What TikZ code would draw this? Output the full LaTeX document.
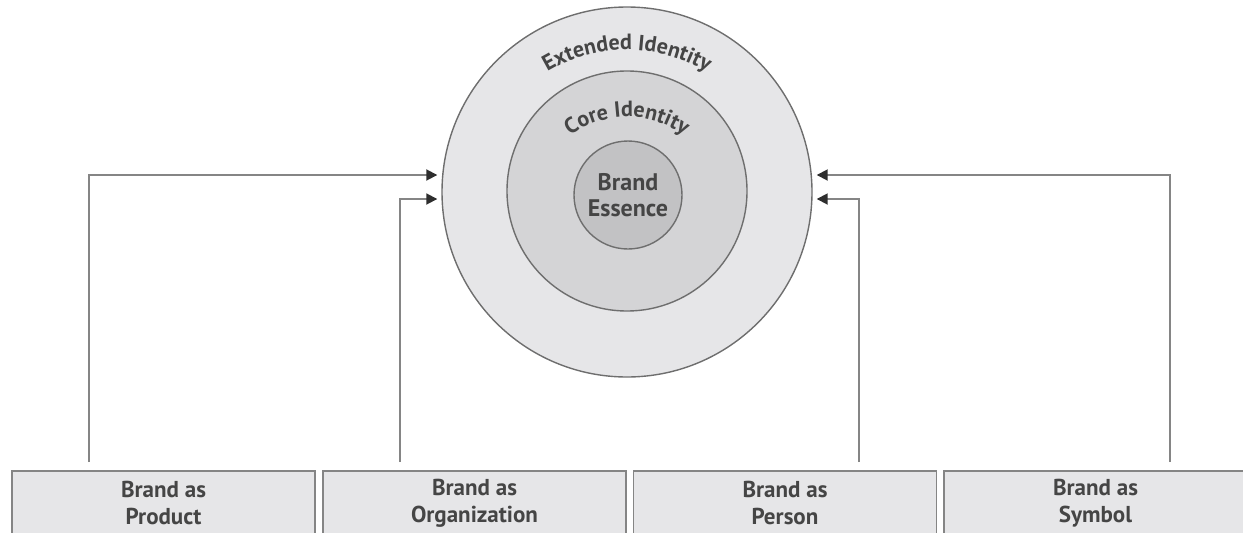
\documentclass[tikz,border=0pt]{standalone}
\usepackage{fontspec}
\setmainfont{PT Sans}
\setsansfont{PT Sans}
\usetikzlibrary{arrows.meta,decorations.text}
\definecolor{textgray}{HTML}{454545}
\definecolor{linegray}{HTML}{858585}
\definecolor{ringline}{HTML}{6E6E6E}
\definecolor{arrowdark}{HTML}{2E2E2E}
\definecolor{outerfill}{HTML}{E6E6E8}
\definecolor{middlefill}{HTML}{D4D4D6}
\definecolor{innerfill}{HTML}{C2C2C4}
\definecolor{boxfill}{HTML}{E6E6E8}
\tikzset{%
  >={Triangle[length=11pt,width=11pt,color=arrowdark]},
  % Specifications for style of nodes:
            ring/.style = {circle, draw=ringline, line width=1.4pt,
                           inner sep=0pt, text=textgray,
                           font=\sffamily\bfseries},
       outerring/.style = {ring, fill=outerfill, minimum size=370pt},
      middlering/.style = {ring, fill=middlefill, minimum size=240pt},
       innerring/.style = {ring, fill=innerfill, minimum size=108pt,
                           align=center, font=\sffamily\bfseries\fontsize{24}{26}\selectfont},
        brandbox/.style = {rectangle, draw=linegray, line width=1.8pt,
                           fill=boxfill, minimum width=303pt, minimum height=64pt,
                           align=center, text=textgray,
                           font=\sffamily\bfseries\fontsize{23}{27}\selectfont},
       connector/.style = {->, draw=linegray, line width=1.8pt,
                           shorten <=8pt, shorten >=4pt},
      ringlabel/.style = {decorate, decoration={text along path, text align=center,
                           text color=textgray,
                           text={|\sffamily\bfseries\fontsize{22}{22}\selectfont|#1}}},
}

\begin{document}
\begin{tikzpicture}[x=1pt, y=1pt]
  \useasboundingbox (0,0) rectangle (1243,-533);
  % Specification of nodes (position, etc.)

  \node (extended)		[outerring] at (627,-192) {};
  \node (core)			[middlering] at (627,-191) {};
  \node (essence)		[innerring] at (628,-195) {Brand\\Essence};

  \path[ringlabel={Extended Identity}] (627,-205) ++(165:155) arc[start angle=165, end angle=15, radius=155];
  \path[ringlabel={Core Identity}] (627,-215) ++(160:98) arc[start angle=160, end angle=20, radius=98];

  \node (product)		[brandbox] at (163.5,-503) {Brand as\\Product};
  \node (organization)	[brandbox] at (474.5,-503) {Brand as\\Organization};
  \node (person)		[brandbox] at (785,-503) {Brand as\\Person};
  \node (symbol)		[brandbox] at (1095.5,-503) {Brand as\\Symbol};

  \draw[connector]		([xshift=-74.5pt]product.north) |- ([yshift=17pt]extended.west);
  \draw[connector]		([xshift=-74.5pt]organization.north) |- ([yshift=-7pt]extended.west);
  \draw[connector]		([xshift=74pt]person.north) |- ([yshift=-7pt]extended.east);
  \draw[connector]		([xshift=74.5pt]symbol.north) |- ([yshift=17pt]extended.east);

\end{tikzpicture}
\end{document}
